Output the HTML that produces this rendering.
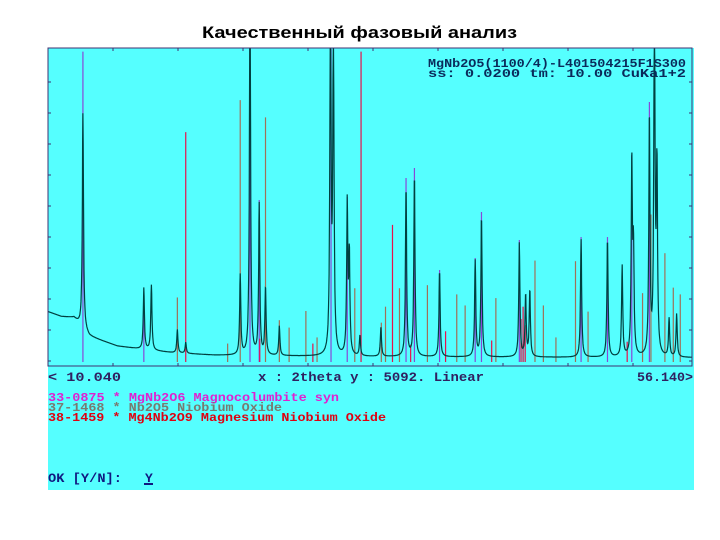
<!DOCTYPE html>
<html><head><meta charset="utf-8"><style>
html,body{margin:0;padding:0;background:#fff;width:720px;height:540px;overflow:hidden}
svg{display:block}
</style></head><body>
<svg id="c" width="720" height="540" xmlns="http://www.w3.org/2000/svg">
<text x="202" y="38" font-family="Liberation Sans, sans-serif" font-weight="bold" font-size="17" textLength="315" lengthAdjust="spacingAndGlyphs">Качественный фазовый анализ</text>
<rect x="48" y="48" width="646" height="442" fill="#55ffff"/>
<g id="sticks"></g>
<g id="prof"></g>
<g id="frame"></g>
<g font-family="Liberation Mono, monospace" font-size="11.5" font-weight="bold">
<text x="428" y="67" fill="#0a2a5a" textLength="258" lengthAdjust="spacingAndGlyphs">MgNb2O5(1100/4)-L401504215F1S300</text>
<text x="428" y="77" fill="#0a2a5a" textLength="258" lengthAdjust="spacingAndGlyphs">ss: 0.0200 tm:   10.00 CuKa1+2</text>
</g>
<g font-family="Liberation Mono, monospace" font-size="13" font-weight="bold">
<text x="48" y="381" fill="#302060" textLength="73" lengthAdjust="spacingAndGlyphs">&lt;  10.040</text>
<text x="258" y="381" fill="#302060" textLength="226" lengthAdjust="spacingAndGlyphs">x : 2theta y :  5092. Linear</text>
<text x="637" y="381" fill="#302060" textLength="56" lengthAdjust="spacingAndGlyphs">56.140&gt;</text>
</g>
<g font-family="Liberation Mono, monospace" font-size="12" font-weight="bold">
<text x="48" y="401" fill="#e020d0" textLength="291" lengthAdjust="spacingAndGlyphs">33-0875 * MgNb2O6 Magnocolumbite syn</text>
<text x="48" y="411" fill="#7a7a70" textLength="234" lengthAdjust="spacingAndGlyphs">37-1468 * Nb2O5 Niobium Oxide</text>
<text x="48" y="421" fill="#e00010" textLength="338" lengthAdjust="spacingAndGlyphs">38-1459 * Mg4Nb2O9 Magnesium Niobium Oxide</text>
</g>
<text x="48" y="482" font-family="Liberation Mono, monospace" font-size="13" font-weight="bold" fill="#101880" textLength="74" lengthAdjust="spacingAndGlyphs">OK [Y/N]:</text>
<text x="145" y="482" font-family="Liberation Mono, monospace" font-size="13" font-weight="bold" fill="#101880">Y</text>
<rect x="144" y="483" width="9" height="2" fill="#101880"/>
</svg>
<script>
const xDomain = [10.04, 56.14];
const yMax = 5092;
const magentaPos = [12.54,16.9,24.5,25.16,30.3,31.46,35.67,36.27,38.07,40.62,41.07,43.78,48.2,50.09,51.83,53.09];
const magentaInt = [5050,1057,6000,2635,6000,2684,2993,3156,1497,1692,2440,1985,2033,2033,3367,4230];
const greyPos = [19.3,22.9,23.8,25.61,26.6,27.3,28.5,29.3,32.0,33.9,34.2,35.2,37.2,39.3,39.9,42.1,44.9,45.5,46.4,47.8,48.7,52.6,53.2,54.2,54.8,55.3];
const greyInt = [1050,300,4260,3980,680,560,830,400,1200,640,900,1200,1250,1100,920,1040,1650,920,400,1640,820,1120,2400,1770,1210,1100];
const redPos = [19.9,25.2,29.0,32.45,34.7,36.0,38.5,41.8,43.9,44.05,44.2,51.5];
const redInt = [3740,380,300,5050,2230,280,500,350,700,900,600,330];
const peakPos = [12.54,16.9,17.44,19.3,19.9,23.8,24.5,25.16,25.61,26.6,30.26,30.47,31.46,31.61,32.37,33.87,35.67,36.27,38.07,40.62,41.07,43.78,44.23,44.53,48.2,50.09,51.14,51.83,51.95,53.09,53.45,53.63,54.5,55.04];
const peakInt = [3500,1000,1060,380,180,1300,6000,2450,1100,480,6000,5500,2450,1600,330,480,2750,2950,1400,1560,2280,1850,1000,1080,1920,1920,1480,3150,1650,3900,6000,3000,620,700];
const bgPos = [10.04,11.0,11.9,13.0,15.0,17.0,19.0,22.0,30.0,40.0,56.14];
const bgInt = [820,740,720,420,260,200,150,110,90,80,70];

const L=48,R=692,T=49,B=362;
const xs = v => L + (v - xDomain[0]) / (xDomain[1] - xDomain[0]) * (R - L);
const ys = v => Math.max(T, B - v / yMax * (B - T));
const NS='http://www.w3.org/2000/svg';

function sticks(pos, ints, color, name){
  const g=document.getElementById('sticks');
  pos.forEach((p,i)=>{
    const l=document.createElementNS(NS,'line');
    l.setAttribute('x1',xs(p));l.setAttribute('x2',xs(p));
    l.setAttribute('y1',B);l.setAttribute('y2',ys(ints[i]));
    l.setAttribute('stroke',color);l.setAttribute('stroke-width','1.2');
    
    
    g.appendChild(l);
  });
}
sticks(greyPos,greyInt,'#a07058','nb2o5-stick');
sticks(magentaPos,magentaInt,'#8848d8','mgnb2o6-stick');
sticks(redPos,redInt,'#e8104a','mg4nb2o9-stick');

function bg(t){
  for(let i=0;i<bgPos.length-1;i++){
    if(t<=bgPos[i+1]){const f=(t-bgPos[i])/(bgPos[i+1]-bgPos[i]);return bgInt[i]+f*(bgInt[i+1]-bgInt[i]);}
  }
  return bgInt[bgInt.length-1];
}
let d='';
for(let t=xDomain[0];t<=xDomain[1];t+=0.02){
  let I=bg(t);
  peakPos.forEach((p,i)=>{const w=0.05;const u=(t-p)/w;I+=peakInt[i]/(1+u*u);});
  d+=(d?'L':'M')+xs(t).toFixed(1)+','+ys(I).toFixed(1);
}
const path=document.createElementNS(NS,'path');
path.setAttribute('d',d);path.setAttribute('fill','none');
path.setAttribute('stroke','#004040');path.setAttribute('stroke-width','1.2');


document.getElementById('prof').appendChild(path);

const fr=document.getElementById('frame');
const rect=document.createElementNS(NS,'path');
rect.setAttribute('d','M48,48H692V366H48Z');
rect.setAttribute('fill','none');rect.setAttribute('stroke','#403070');rect.setAttribute('stroke-width','1');


fr.appendChild(rect);
let tk='';
for(let x=48;x<=692;x+=65){tk+=`M${x},48v3M${x},366v-3`;}
for(let y=82;y<366;y+=31){tk+=`M48,${y}h3M692,${y}h-3`;}
const ticks=document.createElementNS(NS,'path');
ticks.setAttribute('d',tk);ticks.setAttribute('stroke','#403070');ticks.setAttribute('stroke-width','1');


fr.appendChild(ticks);
</script>
</body></html>
